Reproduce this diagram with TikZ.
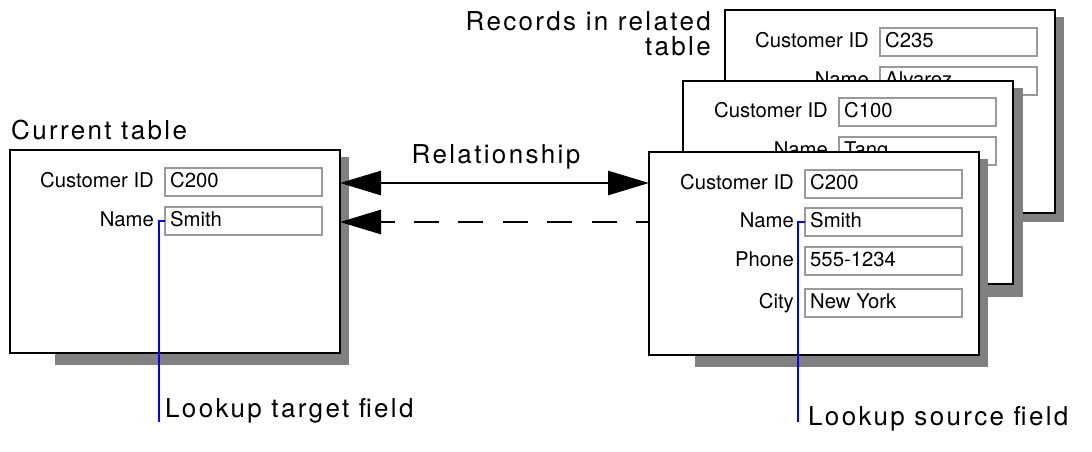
\documentclass[tikz,border=0pt]{standalone}
\usepackage{fontspec}
\setmainfont{TeX Gyre Heros}
\newfontfamily\ttlfont[LetterSpace=9]{TeX Gyre Heros}
\usetikzlibrary{arrows.meta}
\definecolor{shadowc}{HTML}{808080}
\definecolor{fieldc}{HTML}{9A9A9A}
\newcommand\mkfield[5]{%
  \node[fieldbox] (#1) at (#2,#3) {};
  \node[fieldlbl] (#1-l) at (#2-11,#3+19.5) {#4};
  \node[fieldval] (#1-v) at (#2+5,#3+19.5) {#5};}
\begin{document}
\begin{tikzpicture}[x=1pt,y=-1pt,
  shadowbox/.style={fill=shadowc,draw=none},
  recbox/.style={draw=black,line width=1.6pt,fill=white,anchor=north west,minimum width=330pt,minimum height=203pt,outer sep=0pt,inner sep=0pt},
  fieldbox/.style={draw=fieldc,line width=1.2pt,anchor=north west,minimum width=157pt,minimum height=28pt,outer sep=0pt,inner sep=0pt},
  fieldlbl/.style={anchor=base east,inner sep=0pt,font=\fontsize{20.3}{22}\selectfont},
  fieldval/.style={anchor=base west,inner sep=0pt,font=\fontsize{20.3}{22}\selectfont},
  ttl/.style={inner sep=0pt,font=\ttlfont\fontsize{26}{28}\selectfont},
  relline/.style={line width=2.8pt},
  lookup/.style={draw=blue,line width=1.3pt}]
\useasboundingbox (0,0) rectangle (1092,451);
\fill[white] (0,0) rectangle (1092,451);
% current table
\fill[shadowc] (55,157) rectangle (349,365);
\node[recbox] (cur) at (10,150) {};
\mkfield{cid}{165}{168}{Customer ID}{C200}
\mkfield{cname}{165}{207}{Name}{Smith}
\node[ttl,anchor=base west] (curttl) at (11,139.5) {Current table};
% back record
\fill[shadowc] (771,17) rectangle (1064,222);
\node[recbox] (rec3) at (725,10) {};
\mkfield{r3id}{880}{28}{Customer ID}{C235}
\mkfield{r3name}{880}{67}{Name}{Alvarez}
% middle record
\fill[shadowc] (729,88) rectangle (1023,297);
\node[recbox] (rec2) at (683,81) {};
\mkfield{r2id}{839}{98}{Customer ID}{C100}
\mkfield{r2name}{839}{137}{Name}{Tang}
% front record
\fill[shadowc] (695,159) rectangle (988,367);
\node[recbox] (rec1) at (649,152) {};
\mkfield{r1id}{805}{170}{Customer ID}{C200}
\mkfield{r1name}{805}{208}{Name}{Smith}
\mkfield{r1phone}{805}{247}{Phone}{555-1234}
\mkfield{r1city}{805}{289}{City}{New York}
% titles
\node[ttl,anchor=base east] (relttl1) at (711,30) {Records in related};
\node[ttl,anchor=base east] (relttl2) at (711,55) {table};
\node[ttl,anchor=base] (relname) at (496,163) {Relationship};
% relationship arrows
\coordinate (sa) at (340,183);
\coordinate (da) at (649,222);
\draw[relline,{Triangle[length=41pt,width=24pt]}-{Triangle[length=41pt,width=24pt]}] (sa) -- (sa -| rec1.west);
\draw[relline,dash pattern=on 25pt off 19.4pt,dash phase=12pt,-{Triangle[length=41pt,width=24pt]}] (da) -- (da -| cur.east);
% lookup callouts
\coordinate (tgtend) at (159,422);
\coordinate (srcend) at (798,422);
\draw[lookup] (cname.west) -- (cname.west -| tgtend) -- (tgtend);
\draw[lookup] (r1name.west) -- (r1name.west -| srcend) -- (srcend);
\node[ttl,anchor=base west] (tgtlbl) at (165,417) {Lookup target field};
\node[ttl,anchor=base west] (srclbl) at (808,425) {Lookup source field};
\end{tikzpicture}
\end{document}
